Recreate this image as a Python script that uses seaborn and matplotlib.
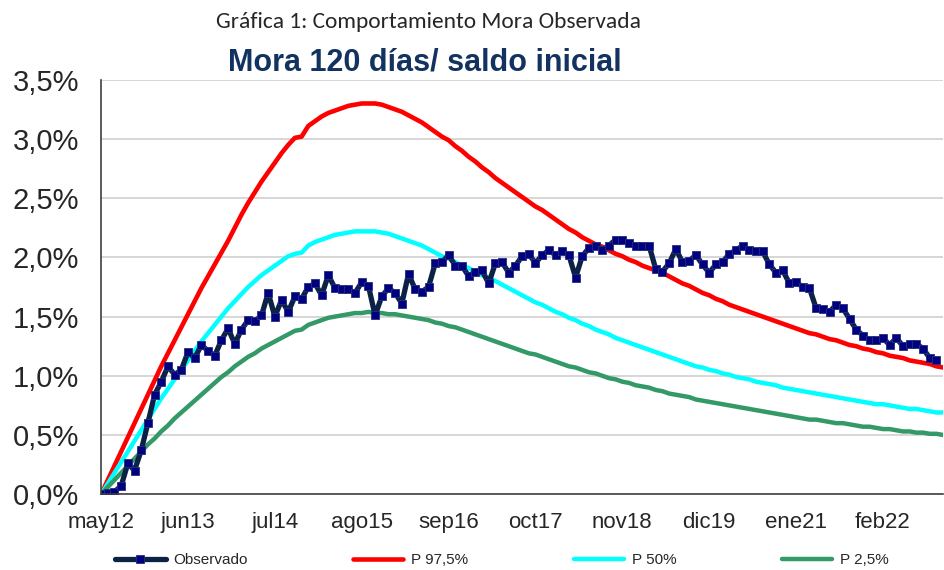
import pandas as pd
import numpy as np
import matplotlib.pyplot as plt
import seaborn as sns

# Monthly series, may12 onward (values in %)
observado = [0.00, 0.01, 0.02, 0.07, 0.26, 0.20, 0.37, 0.60, 0.84, 0.95,
             1.08, 1.01, 1.05, 1.20, 1.15, 1.26, 1.21, 1.17, 1.30, 1.40,
             1.27, 1.39, 1.47, 1.46, 1.51, 1.70, 1.50, 1.64, 1.54, 1.67,
             1.65, 1.75, 1.78, 1.68, 1.85, 1.74, 1.73, 1.73, 1.70, 1.79,
             1.76, 1.51, 1.67, 1.74, 1.70, 1.61, 1.86, 1.73, 1.71, 1.75,
             1.95, 1.96, 2.02, 1.93, 1.93, 1.84, 1.88, 1.89, 1.78, 1.95,
             1.96, 1.87, 1.93, 2.01, 2.03, 1.95, 2.02, 2.06, 2.02, 2.05,
             2.02, 1.83, 2.01, 2.08, 2.10, 2.06, 2.10, 2.15, 2.15, 2.12,
             2.10, 2.10, 2.10, 1.90, 1.88, 1.95, 2.07, 1.96, 1.97, 2.02,
             1.94, 1.87, 1.94, 1.96, 2.03, 2.06, 2.10, 2.06, 2.05, 2.05,
             1.94, 1.87, 1.89, 1.78, 1.79, 1.75, 1.74, 1.57, 1.56, 1.54,
             1.60, 1.57, 1.48, 1.39, 1.34, 1.30, 1.30, 1.32, 1.26, 1.32,
             1.25, 1.27, 1.27, 1.23, 1.15, 1.13]

p975 = [0.00, 0.12, 0.24, 0.36, 0.48, 0.60, 0.72, 0.84, 0.96, 1.08,
        1.19, 1.30, 1.41, 1.52, 1.63, 1.74, 1.84, 1.94, 2.04, 2.14,
        2.25, 2.36, 2.46, 2.55, 2.64, 2.72, 2.80, 2.88, 2.95, 3.01,
        3.02, 3.11, 3.15, 3.19, 3.22, 3.24, 3.26, 3.28, 3.29, 3.30,
        3.30, 3.30, 3.29, 3.27, 3.25, 3.23, 3.20, 3.17, 3.14, 3.10,
        3.06, 3.02, 2.99, 2.94, 2.90, 2.85, 2.81, 2.76, 2.72, 2.67,
        2.63, 2.59, 2.55, 2.51, 2.47, 2.43, 2.40, 2.36, 2.32, 2.28,
        2.24, 2.21, 2.17, 2.14, 2.11, 2.09, 2.06, 2.03, 2.01, 1.98,
        1.96, 1.93, 1.91, 1.89, 1.87, 1.84, 1.81, 1.78, 1.76, 1.73,
        1.70, 1.68, 1.65, 1.63, 1.60, 1.58, 1.56, 1.54, 1.52, 1.50,
        1.48, 1.46, 1.44, 1.42, 1.40, 1.38, 1.36, 1.35, 1.33, 1.31,
        1.30, 1.28, 1.26, 1.25, 1.23, 1.22, 1.20, 1.19, 1.17, 1.16,
        1.15, 1.13, 1.12, 1.11, 1.10, 1.08, 1.07]

p50 = [0.00, 0.09, 0.18, 0.27, 0.36, 0.45, 0.54, 0.63, 0.72, 0.81,
       0.89, 0.97, 1.05, 1.13, 1.21, 1.29, 1.36, 1.43, 1.50, 1.57,
       1.63, 1.69, 1.75, 1.80, 1.85, 1.89, 1.93, 1.97, 2.01, 2.03,
       2.04, 2.10, 2.13, 2.15, 2.17, 2.19, 2.20, 2.21, 2.22, 2.22,
       2.22, 2.22, 2.21, 2.20, 2.18, 2.16, 2.14, 2.12, 2.10, 2.07,
       2.04, 2.01, 1.99, 1.96, 1.93, 1.91, 1.88, 1.85, 1.83, 1.80,
       1.77, 1.74, 1.71, 1.68, 1.65, 1.62, 1.60, 1.57, 1.54, 1.52,
       1.49, 1.47, 1.44, 1.42, 1.39, 1.37, 1.35, 1.32, 1.30, 1.28,
       1.26, 1.24, 1.22, 1.20, 1.18, 1.16, 1.14, 1.12, 1.10, 1.08,
       1.07, 1.05, 1.04, 1.02, 1.01, 0.99, 0.98, 0.97, 0.95, 0.94,
       0.93, 0.92, 0.90, 0.89, 0.88, 0.87, 0.86, 0.85, 0.84, 0.83,
       0.82, 0.81, 0.80, 0.79, 0.78, 0.77, 0.76, 0.76, 0.75, 0.74,
       0.73, 0.72, 0.72, 0.71, 0.70, 0.69, 0.69]

p25 = [0.00, 0.06, 0.12, 0.18, 0.24, 0.30, 0.36, 0.42, 0.47, 0.53,
       0.58, 0.64, 0.69, 0.74, 0.79, 0.84, 0.89, 0.94, 0.99, 1.03,
       1.08, 1.12, 1.16, 1.19, 1.23, 1.26, 1.29, 1.32, 1.35, 1.38,
       1.39, 1.43, 1.45, 1.47, 1.49, 1.50, 1.51, 1.52, 1.53, 1.53,
       1.54, 1.53, 1.53, 1.52, 1.52, 1.51, 1.50, 1.49, 1.48, 1.47,
       1.45, 1.44, 1.42, 1.41, 1.39, 1.37, 1.35, 1.33, 1.31, 1.29,
       1.27, 1.25, 1.23, 1.21, 1.19, 1.18, 1.16, 1.14, 1.12, 1.10,
       1.08, 1.07, 1.05, 1.03, 1.02, 1.00, 0.98, 0.97, 0.95, 0.94,
       0.92, 0.91, 0.90, 0.88, 0.87, 0.85, 0.84, 0.83, 0.82, 0.80,
       0.79, 0.78, 0.77, 0.76, 0.75, 0.74, 0.73, 0.72, 0.71, 0.70,
       0.69, 0.68, 0.67, 0.66, 0.65, 0.64, 0.63, 0.63, 0.62, 0.61,
       0.60, 0.60, 0.59, 0.58, 0.57, 0.57, 0.56, 0.55, 0.55, 0.54,
       0.53, 0.53, 0.52, 0.52, 0.51, 0.51, 0.50]

tick_labels = ['may12', 'jun13', 'jul14', 'ago15', 'sep16',
               'oct17', 'nov18', 'dic19', 'ene21', 'feb22']
tick_step = 13  # months between labels

df_obs = pd.DataFrame({'mes': range(len(observado)), 'valor': observado})
df_p = pd.DataFrame({'mes': range(len(p975)), 'P 97,5%': p975,
                     'P 50%': p50, 'P 2,5%': p25})

sns.set_style('white')
plt.rcParams['font.family'] = ['Liberation Sans', 'DejaVu Sans']

fig = plt.figure(figsize=(9.45, 5.7), dpi=100)
ax = fig.add_axes([0.107, 0.133, 0.891, 0.727])

# grid first so it sits behind the lines
ax.set_axisbelow(True)
ax.yaxis.grid(True, color='#d0d0d0', linewidth=1.2)

sns.lineplot(data=df_p, x='mes', y='P 97,5%', ax=ax, color='#ff0000',
             linewidth=3.3, label='P 97,5%')
sns.lineplot(data=df_p, x='mes', y='P 50%', ax=ax, color='#00ffff',
             linewidth=3.2, label='P 50%')
sns.lineplot(data=df_p, x='mes', y='P 2,5%', ax=ax, color='#339966',
             linewidth=3.2, label='P 2,5%')
sns.lineplot(data=df_obs, x='mes', y='valor', ax=ax, color='#0b2246',
             linewidth=3.8, marker='s', markersize=6.3,
             markerfacecolor='#000080', markeredgecolor='#23307a',
             markeredgewidth=0.6, label='Observado')

ax.set_xlim(0, len(p975) - 1)
ax.set_ylim(0, 3.5)
ax.set_yticks(np.arange(0, 3.51, 0.5))
ax.set_yticklabels([f'{v:.1f}%'.replace('.', ',') for v in np.arange(0, 3.51, 0.5)],
                   fontsize=21)
ax.set_xticks([i * tick_step for i in range(len(tick_labels))])
ax.set_xticklabels(tick_labels, fontsize=16)
ax.tick_params(axis='both', direction='out', length=6, width=1,
               color='#404040')
ax.tick_params(axis='y', pad=10)
ax.tick_params(axis='x', pad=7)
ax.set_xlabel('')
ax.set_ylabel('')

for s in ['top', 'right']:
    ax.spines[s].set_visible(False)
for s in ['left', 'bottom']:
    ax.spines[s].set_color('#404040')
    ax.spines[s].set_linewidth(1.2)

handles, labels = ax.get_legend_handles_labels()
ax.get_legend().remove()
order = [3, 0, 1, 2]
fig.legend([handles[i] for i in order], [labels[i] for i in order],
           loc='center', bbox_to_anchor=(0.531, 0.0175), ncol=4, frameon=False,
           fontsize=11, handlelength=3.3, handletextpad=0.5,
           columnspacing=6.9)

fig.text(0.453, 0.962, 'Gráfica 1: Comportamiento Mora Observada',
         ha='center', va='center', fontsize=16.8, family=['Carlito', 'Lato'])
fig.text(0.450, 0.890, 'Mora 120 días/ saldo inicial', ha='center',
         va='center', fontsize=22, fontweight='bold', color='#12325f')

fig.savefig('out.png', dpi=100)
